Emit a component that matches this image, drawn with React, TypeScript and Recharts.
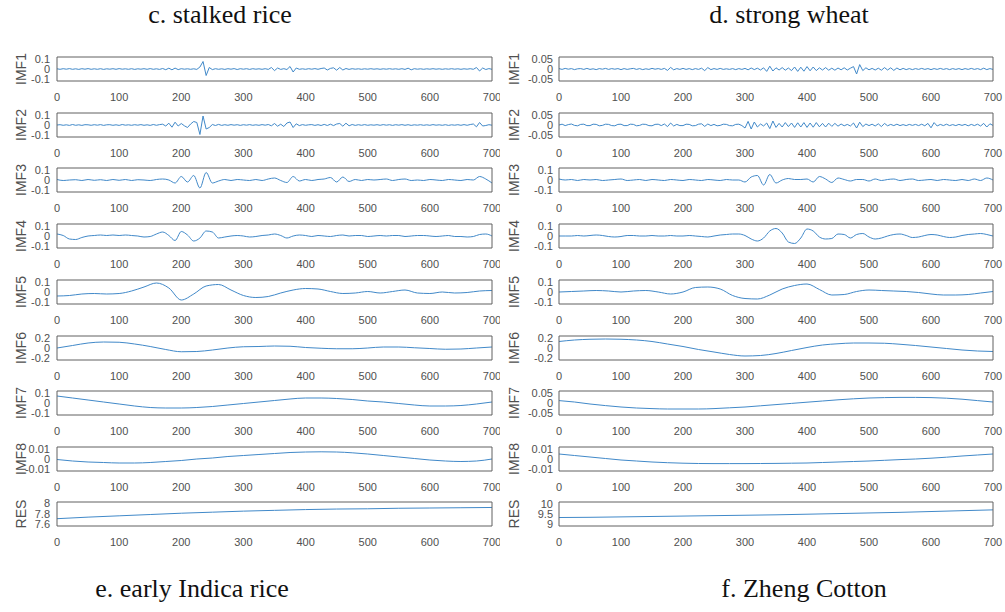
import { LineChart, Line, XAxis, YAxis } from "recharts"

const xTicks = [0, 100, 200, 300, 400, 500, 600, 700]
const rowNames = ["IMF1", "IMF2", "IMF3", "IMF4", "IMF5", "IMF6", "IMF7", "IMF8", "RES"]
const topTitles = ["c. stalked rice", "d. strong wheat"]
const bottomTitles = ["e. early Indica rice", "f. Zheng Cotton"]

// ---- c. stalked rice ----
// IMF1 / IMF2: one value every 5 samples, in thousandths
const riceImf1 = [
  2, -3, 3, -2, 4, -3, 2, -4, 3, -2, 4, -3, 2, -3, 3, -4, 2, -2, 3, -3,
  4, -2, 2, -3, 3, -4, 2, -2, 3, -3, 4, -3, 2, -4, 5, -7, 8, -8, 9, -6,
  3, -2, 2, -3, 2, -4, 20, 75, -65, 15, -6, 3, -3, 2, -4, 3, -2, 4, -5, 3,
  -2, 3, -4, 3, -2, 2, -3, 3, -4, 15, -16, 10, -4, 3, -5, 25, -30, 10, -3, 2,
  -3, 3, -2, 4, -3, 5, 10, -10, 6, 12, -12, 15, -10, 5, -4, 3, -2, 2, -3, 2,
  -2, 3, -2, 2, -3, 2, -2, 3, -2, 2, -3, 3, -4, 8, -8, 3, -2, 2, -3, 2,
  -2, 3, -2, 2, -3, 2, -2, 3, -2, 2, -3, 2, -2, 3, -3, 15, -20, 10, -5, 4,
  -3,
]
const riceImf2 = [
  0, 3, -3, 2, -4, 5, -3, 2, -4, 3, 2, -3, 3, -2, 4, -4, 2, 3, -3, 2,
  -4, 5, -2, 2, -3, 3, -2, 4, -3, 2, -4, 5, -3, 4, 8, -10, 18, -22, 28, -10,
  15, -8, -25, 10, 35, 25, -95, 90, -40, -25, 5, -5, 6, -4, 3, -3, 4, -2, 3, -4,
  3, -2, 4, -3, 2, -3, 4, -2, 5, -8, 15, -12, 8, -15, 20, 30, -25, 12, -6, 4,
  -3, 2, 4, -4, 3, -5, 6, -5, 8, -6, 10, 15, -12, 18, -8, 5, -4, 3, -3, 4,
  -3, 2, -2, 3, -3, 4, -2, 3, -4, 3, -2, 4, -3, 3, -4, 2, -2, 3, -3, 2,
  -3, 4, -2, 2, -3, 3, -4, 2, -2, 3, -3, 4, -3, 5, 10, -18, 25, -10, -5, 3,
  -2,
]
// IMF3 / IMF4: every 10 samples
const riceImf3 = [
  0.005, -0.005, 0, 0.003, -0.005, 0.005, -0.003, 0.003, -0.005, 0.005,
  -0.003, 0.005, -0.005, 0.003, 0, -0.005, 0.005, 0.01, 0, -0.03,
  0.035, -0.02, 0.045, -0.08, 0.075, -0.03, -0.01, 0.005, -0.005, 0.005,
  0, -0.005, 0.005, -0.005, 0.01, 0.02, -0.005, -0.025, 0.035, -0.01,
  0.005, -0.005, 0.005, 0.01, 0.025, -0.02, 0.03, -0.015, 0.005, -0.005,
  0.005, 0, 0.005, 0.01, -0.005, 0.005, 0.01, -0.005, 0, -0.005,
  0.005, 0, -0.005, 0.005, 0, -0.005, 0.005, 0, 0.035, 0.01,
  -0.03,
]
const riceImf4 = [
  0.02, 0.005, -0.03, -0.035, -0.015, 0, 0.005, 0.01, 0.005, 0.01,
  0.005, 0.01, 0.005, 0, -0.01, -0.005, 0.02, 0.04, 0.005, -0.045,
  0.045, 0.01, -0.05, -0.02, 0.05, 0.04, -0.02, -0.01, 0, 0.005,
  0, -0.01, -0.005, 0.005, 0.01, 0.02, 0.005, -0.02, 0, 0.01,
  0.005, -0.005, 0.005, 0, -0.005, 0.005, 0.01, 0, 0.005, 0.005,
  -0.005, 0, 0.005, 0, 0.005, 0.005, -0.005, 0, 0.005, 0.005,
  0, -0.005, 0, 0.005, -0.005, -0.005, -0.01, -0.005, 0.015, 0.02,
  0,
]
// IMF5: every 20 samples
const riceImf5 = [
  -0.04, -0.035, -0.02, -0.015, -0.02, -0.015, 0.01, 0.05, 0.09, 0.04,
  -0.08, -0.02, 0.06, 0.075, 0.02, -0.035, -0.055, -0.045, -0.01, 0.02,
  0.035, 0.03, 0.005, -0.015, -0.01, 0.005, -0.01, 0.005, 0.02, -0.01,
  -0.015, 0, -0.01, -0.005, 0.01, 0.015,
]
// IMF6..IMF8: every 25 samples
const riceImf6 = [
  0, 0.05, 0.1, 0.12, 0.115, 0.08, 0.03, -0.03, -0.075, -0.07,
  -0.04, 0, 0.025, 0.03, 0.04, 0.035, 0.01, -0.005, -0.015, -0.015,
  0, 0.02, 0.02, 0.005, -0.01, -0.025, -0.02, 0, 0.02,
]
const riceImf7 = [
  0.07, 0.05, 0.03, 0.01, -0.01, -0.03, -0.045, -0.05, -0.05, -0.045,
  -0.035, -0.02, -0.005, 0.01, 0.025, 0.04, 0.05, 0.05, 0.045, 0.035,
  0.02, 0.01, -0.005, -0.02, -0.03, -0.03, -0.025, -0.01, 0.01,
]
const riceImf8 = [
  -0.0005, -0.002, -0.003, -0.0035, -0.004, -0.004, -0.0035, -0.0025, -0.0015, 0,
  0.001, 0.0025, 0.0035, 0.0045, 0.0055, 0.0065, 0.007, 0.0072, 0.007, 0.0062,
  0.005, 0.0035, 0.002, 0.0005, -0.001, -0.002, -0.0025, -0.002, 0,
]
// RES: every 50 samples
const riceRes = [7.71, 7.74, 7.765, 7.79, 7.815, 7.835, 7.855, 7.87, 7.885, 7.895, 7.9, 7.91, 7.915, 7.92, 7.925]

// ---- d. strong wheat ----
const wheatImf1 = [
  2, -2, 3, -1, 2, -3, 1, 2, -2, 3, -2, 1, -3, 2, -1, 3, -2, 2, -1, 2,
  -3, 2, -2, 1, 3, -2, 2, -3, 1, -2, 3, -1, 2, -2, 3, -7, 8, -4, 2, -2,
  3, -2, 2, -3, 2, -2, 4, -8, 7, -3, 2, -2, 3, -2, 1, -2, 2, -3, 2, -2,
  3, -4, 5, -3, 4, -5, 6, -12, 14, -10, 6, -5, 7, -6, 5, -8, 10, -12, 9, -11,
  12, -9, 10, -8, 6, -5, 7, -6, 4, -6, 5, -4, 6, -5, 4, 12, -25, 22, -8, 6,
  -4, 3, -5, 4, -6, 7, -5, 6, -7, 5, -4, 3, -3, 2, -3, 2, -2, 3, -2, 2,
  -3, 2, -2, 3, -2, 2, -3, 2, -2, 2, -3, 2, -2, 3, -2, 2, -3, 4, -3, 2,
  -2,
]
const wheatImf2 = [
  0, 4, -3, 2, 5, -2, -4, 3, 4, -3, -3, 4, 3, -4, -2, 4, 3, -3, -4, 3,
  4, -3, -3, 4, 3, -4, -2, 4, 3, -3, -4, 3, 4, -3, 5, -8, 10, -5, 3, -3,
  -3, 4, 3, -4, -3, 4, 6, -7, 5, -3, 3, -4, -2, 4, 3, -3, -4, 3, 4, -3,
  -15, 18, -20, 15, -10, 5, -5, 10, -18, 20, -12, 8, -10, 12, -8, 10, -12, 11, -10, 12,
  -12, 10, -11, 12, -9, 8, -10, 9, -7, 8, -6, 5, -4, 3, -5, 10, -15, 14, -8, 5,
  -3, 4, -5, 6, -8, 8, -4, 3, -3, 4, -3, 2, -3, 3, -2, 3, -3, 4, -4, 8,
  -14, 12, -5, 3, -3, 4, -3, 2, -3, 3, -2, 3, -4, 3, -3, 4, -5, 8, -10, 6,
  -2,
]
const wheatImf3 = [
  0.01, 0, 0.005, -0.005, 0.005, 0, 0.005, -0.005, 0, 0.005,
  0.01, -0.005, 0, 0.005, -0.005, 0.005, 0, -0.005, 0.005, 0,
  -0.005, 0.005, 0, -0.005, 0.005, 0, -0.005, 0.005, 0, 0,
  -0.02, 0.03, 0.045, -0.05, 0.055, -0.03, 0, 0.015, 0.005, 0.005,
  0.01, -0.02, 0.035, 0.01, -0.025, 0.02, 0.005, -0.01, 0.005, 0.005,
  -0.01, 0.01, -0.005, 0.005, 0.01, -0.005, 0.005, 0.01, -0.005, 0,
  0.005, -0.005, 0.005, 0, -0.005, 0.005, -0.005, 0.01, -0.005, 0.02,
  0,
]
const wheatImf4 = [
  0, 0, 0, 0.005, 0, 0.005, 0.01, 0.005, -0.005, -0.01,
  -0.005, 0.005, 0.005, 0, 0, 0.005, 0, 0, 0.005, 0,
  0, 0.005, 0, -0.005, -0.01, 0, 0.01, 0.015, 0.02, 0.02,
  0.005, -0.03, -0.05, -0.02, 0.05, 0.075, 0.03, -0.06, -0.075, -0.02,
  0.07, 0.05, -0.01, -0.03, -0.025, 0.02, 0.015, -0.02, 0.015, 0.025,
  -0.01, -0.03, -0.02, 0, 0.015, 0.02, 0.005, -0.015, -0.01, 0.005,
  0.015, 0.01, -0.005, -0.015, -0.01, 0.005, 0.015, 0.02, 0.025, 0.015,
  0,
]
const wheatImf5 = [
  0, 0.005, 0.01, 0.015, 0.01, 0, 0.01, 0.015, 0, -0.02,
  0, 0.045, 0.05, 0.03, -0.035, -0.065, -0.07, -0.03, 0.03, 0.065,
  0.08, 0.025, -0.03, -0.025, 0.005, 0.02, 0.015, 0.01, 0.005, -0.005,
  -0.02, -0.03, -0.03, -0.025, -0.01, 0.005,
]
const wheatImf6 = [
  0.13, 0.16, 0.175, 0.18, 0.175, 0.16, 0.13, 0.08, 0.03, -0.03,
  -0.08, -0.13, -0.16, -0.15, -0.11, -0.05, 0.01, 0.06, 0.085, 0.1,
  0.1, 0.095, 0.075, 0.05, 0.02, -0.01, -0.04, -0.06, -0.07,
]
const wheatImf7 = [
  0.012, 0.005, -0.005, -0.013, -0.02, -0.025, -0.028, -0.03, -0.03, -0.03,
  -0.028, -0.024, -0.02, -0.014, -0.008, -0.002, 0.004, 0.01, 0.016, 0.021,
  0.025, 0.027, 0.028, 0.028, 0.027, 0.024, 0.019, 0.012, 0.005,
]
const wheatImf8 = [
  0.005, 0.0035, 0.002, 0.0005, -0.001, -0.002, -0.003, -0.0037, -0.0042, -0.0045,
  -0.0046, -0.0046, -0.0046, -0.0045, -0.0044, -0.0042, -0.004, -0.0035, -0.003, -0.0025,
  -0.002, -0.0013, -0.0006, 0, 0.0008, 0.0018, 0.003, 0.004, 0.005,
]
const wheatRes = [9.33, 9.34, 9.36, 9.38, 9.4, 9.42, 9.44, 9.46, 9.49, 9.52, 9.55, 9.58, 9.62, 9.66, 9.7]

type Scale = { domain: [number, number]; ticks: number[] }
type Row = { values: number[]; step: number; unit: number; scale: Scale }

const tenth: Scale = { domain: [-0.12, 0.12], ticks: [-0.1, 0, 0.1] }
const twentieth: Scale = { domain: [-0.06, 0.06], ticks: [-0.05, 0, 0.05] }
const fifth: Scale = { domain: [-0.24, 0.24], ticks: [-0.2, 0, 0.2] }
const hundredth: Scale = { domain: [-0.012, 0.012], ticks: [-0.01, 0, 0.01] }

const riceRows: Row[] = [
  { values: riceImf1, step: 5, unit: 0.001, scale: tenth },
  { values: riceImf2, step: 5, unit: 0.001, scale: tenth },
  { values: riceImf3, step: 10, unit: 1, scale: tenth },
  { values: riceImf4, step: 10, unit: 1, scale: tenth },
  { values: riceImf5, step: 20, unit: 1, scale: tenth },
  { values: riceImf6, step: 25, unit: 1, scale: fifth },
  { values: riceImf7, step: 25, unit: 1, scale: tenth },
  { values: riceImf8, step: 25, unit: 1, scale: hundredth },
  { values: riceRes, step: 50, unit: 1, scale: { domain: [7.57, 8.03], ticks: [7.6, 7.8, 8] } },
]

const wheatRows: Row[] = [
  { values: wheatImf1, step: 5, unit: 0.001, scale: twentieth },
  { values: wheatImf2, step: 5, unit: 0.001, scale: twentieth },
  { values: wheatImf3, step: 10, unit: 1, scale: tenth },
  { values: wheatImf4, step: 10, unit: 1, scale: tenth },
  { values: wheatImf5, step: 20, unit: 1, scale: tenth },
  { values: wheatImf6, step: 25, unit: 1, scale: fifth },
  { values: wheatImf7, step: 25, unit: 1, scale: twentieth },
  { values: wheatImf8, step: 25, unit: 1, scale: hundredth },
  { values: wheatRes, step: 50, unit: 1, scale: { domain: [8.92, 10.08], ticks: [9, 9.5, 10] } },
]

// layout
const boxTops = [57, 113, 168, 224, 280, 336, 391, 447, 502]
const PAD = 8
const BOX_H = 24
const AXIS_H = 26
const frame = "#606060"
const textColor = "#505050"
const sans = '"Liberation Sans", Arial, Helvetica, sans-serif'
const serif = '"Liberation Serif", "Times New Roman", serif'
const tickFont = { fontSize: 11, fill: textColor, fontFamily: sans }

type ColumnLayout = { left: number; width: number; axisWidth: number; rightMargin: number; labelX: number; labelGap: number }
const leftCol: ColumnLayout = { left: 0, width: 500, axisWidth: 57, rightMargin: 8, labelX: 21, labelGap: 7 }
const rightCol: ColumnLayout = { left: 500, width: 505, axisWidth: 59, rightMargin: 12, labelX: 14, labelGap: 6 }

function Strip({ row, name, col }: { row: Row; name: string; col: ColumnLayout }) {
  const data = row.values.map((v, i) => ({ t: i * row.step, v: v * row.unit }))
  const { domain, ticks } = row.scale

  const yLabel = (props: any) => {
    const vb = props.viewBox || {}
    const cx = (vb.x || 0) + col.labelX
    const cy = (vb.y || 0) + (vb.height || 0) / 2
    return (
      <text
        x={cx}
        y={cy}
        transform={`rotate(-90 ${cx} ${cy})`}
        textAnchor="middle"
        dominantBaseline="central"
        fontSize={14}
        fontFamily={sans}
        fill={textColor}
      >
        {name}
      </text>
    )
  }

  return (
    <LineChart
      width={col.width}
      height={PAD + BOX_H + AXIS_H}
      data={data}
      margin={{ top: PAD, right: col.rightMargin, bottom: 0, left: 0 }}
    >
      <XAxis
        xAxisId="b"
        dataKey="t"
        type="number"
        domain={[0, 700]}
        ticks={xTicks}
        interval={0}
        height={AXIS_H}
        tickLine={false}
        tickSize={0}
        tickMargin={12}
        axisLine={{ stroke: frame }}
        tick={tickFont}
      />
      <XAxis
        xAxisId="bm"
        dataKey="t"
        type="number"
        domain={[0, 700]}
        ticks={xTicks}
        interval={0}
        mirror
        tick={false}
        tickSize={3}
        axisLine={false}
        tickLine={{ stroke: frame }}
      />
      <XAxis
        xAxisId="t"
        dataKey="t"
        orientation="top"
        type="number"
        domain={[0, 700]}
        ticks={xTicks}
        interval={0}
        mirror
        tick={false}
        tickSize={3}
        axisLine={{ stroke: frame }}
        tickLine={{ stroke: frame }}
      />
      <YAxis
        yAxisId="l"
        type="number"
        domain={domain}
        ticks={ticks}
        interval={0}
        width={col.axisWidth}
        tickLine={false}
        tickSize={0}
        tickMargin={col.labelGap}
        axisLine={{ stroke: frame }}
        tick={tickFont}
        label={yLabel}
      />
      <YAxis
        yAxisId="lm"
        type="number"
        domain={domain}
        ticks={ticks}
        interval={0}
        mirror
        tick={false}
        tickSize={3}
        axisLine={false}
        tickLine={{ stroke: frame }}
      />
      <YAxis
        yAxisId="r"
        orientation="right"
        type="number"
        domain={domain}
        ticks={ticks}
        interval={0}
        mirror
        tick={false}
        tickSize={3}
        axisLine={{ stroke: frame }}
        tickLine={{ stroke: frame }}
      />
      <Line
        xAxisId="b"
        yAxisId="l"
        dataKey="v"
        type={row.step >= 10 ? "monotone" : "linear"}
        stroke="#4189c9"
        strokeWidth={1}
        dot={false}
        activeDot={false}
        isAnimationActive={false}
      />
    </LineChart>
  )
}

function Column({ rows, col }: { rows: Row[]; col: ColumnLayout }) {
  return (
    <>
      {rows.map((row, i) => (
        <div key={rowNames[i]} style={{ position: "absolute", left: col.left, top: boxTops[i] - PAD }}>
          <Strip row={row} name={rowNames[i]} col={col} />
        </div>
      ))}
    </>
  )
}

function Title({ text, center, top }: { text: string; center: number; top: number }) {
  return (
    <div
      style={{
        position: "absolute",
        left: center - 200,
        top,
        width: 400,
        textAlign: "center",
        fontFamily: serif,
        fontSize: 26,
        lineHeight: "30px",
        color: "#111",
        whiteSpace: "nowrap",
      }}
    >
      {text}
    </div>
  )
}

export default function App() {
  return (
    <div style={{ position: "absolute", left: 0, top: 0, width: 1005, height: 612, background: "#fff", overflow: "hidden" }}>
      <Title text={topTitles[0]} center={220} top={0} />
      <Title text={topTitles[1]} center={789} top={0} />
      <Column rows={riceRows} col={leftCol} />
      <Column rows={wheatRows} col={rightCol} />
      <Title text={bottomTitles[0]} center={192} top={574} />
      <Title text={bottomTitles[1]} center={804} top={574} />
    </div>
  )
}
